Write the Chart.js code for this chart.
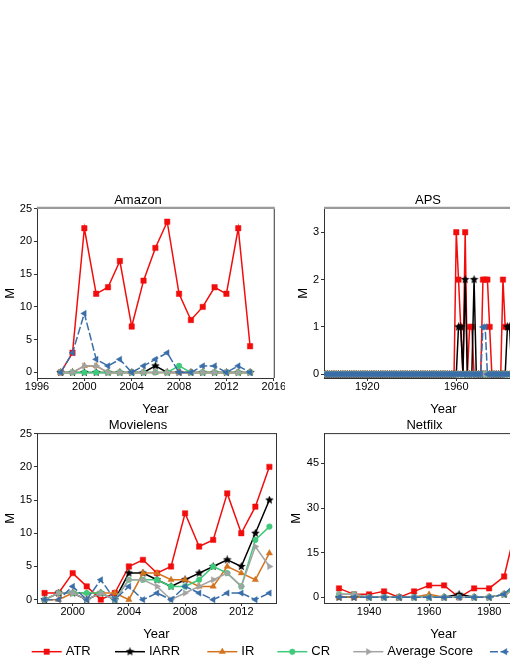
<!DOCTYPE html>
<html>
<head>
<meta charset="utf-8">
<script src="https://cdn.jsdelivr.net/npm/chart.js@4.4.1/dist/chart.umd.min.js"></script>
<style>
html, body { margin: 0; padding: 0; background: #fff; overflow: hidden; }
#fig { position: relative; width: 510px; height: 660px; overflow: hidden; background: #fff; }
#fig canvas { position: absolute; }
</style>
</head>
<body>
<div id="fig">
  <canvas id="amazon" width="285" height="231" style="left:0px;top:189px"></canvas>
  <canvas id="aps" width="279" height="231" style="left:293px;top:189px"></canvas>
  <canvas id="movielens" width="285" height="231" style="left:0px;top:414px"></canvas>
  <canvas id="netflix" width="286" height="231" style="left:286px;top:414px"></canvas>
  <canvas id="legend" width="600" height="24" style="left:0px;top:636px"></canvas>
</div>
<script>
// series names (last one is cut off in the figure)
const seriesNames = ['ATR', 'IARR', 'IR', 'CR', 'Average Score', 'Random'];

// ---- Amazon ----
const amazonYears = [1998, 1999, 2000, 2001, 2002, 2003, 2004, 2005, 2006, 2007, 2008, 2009, 2010, 2011, 2012, 2013, 2014];
const amazonATR   = [0, 3, 22, 12, 13, 17, 7, 14, 19, 23, 12, 8, 10, 13, 12, 22, 4];
const amazonIARR  = [0, 0, 0, 0, 0, 0, 0, 0, 1, 0, 0, 0, 0, 0, 0, 0, 0];
const amazonIR    = [0, 0, 1, 1, 0, 0, 0, 0, 0, 0, 0, 0, 0, 0, 0, 0, 0];
const amazonCR    = [0, 0, 0, 0, 0, 0, 0, 0, 0, 0, 1, 0, 0, 0, 0, 0, 0];
const amazonAvg   = [0, 0, 1, 1, 0, 0, 0, 0, 0, 0, 0, 0, 0, 0, 0, 0, 0];
const amazonRand  = [0, 3, 9, 2, 1, 2, 0, 1, 2, 3, 0, 0, 1, 1, 0, 1, 0];
const amazonXTicks = [1996, 2000, 2004, 2008, 2012, 2016];
const amazonYTicks = [0, 5, 10, 15, 20, 25];

// ---- APS ----
const apsYears = [
  1901, 1902, 1903, 1904, 1905, 1906, 1907, 1908, 1909, 1910,
  1911, 1912, 1913, 1914, 1915, 1916, 1917, 1918, 1919, 1920,
  1921, 1922, 1923, 1924, 1925, 1926, 1927, 1928, 1929, 1930,
  1931, 1932, 1933, 1934, 1935, 1936, 1937, 1938, 1939, 1940,
  1941, 1942, 1943, 1944, 1945, 1946, 1947, 1948, 1949, 1950,
  1951, 1952, 1953, 1954, 1955, 1956, 1957, 1958, 1959, 1960,
  1961, 1962, 1963, 1964, 1965, 1966, 1967, 1968, 1969, 1970,
  1971, 1972, 1973, 1974, 1975, 1976, 1977, 1978, 1979, 1980,
  1981, 1982, 1983, 1984, 1985, 1986, 1987, 1988, 1989, 1990
];
const apsATR = [
  0, 0, 0, 0, 0, 0, 0, 0, 0, 0,
  0, 0, 0, 0, 0, 0, 0, 0, 0, 0,
  0, 0, 0, 0, 0, 0, 0, 0, 0, 0,
  0, 0, 0, 0, 0, 0, 0, 0, 0, 0,
  0, 0, 0, 0, 0, 0, 0, 0, 0, 0,
  0, 0, 0, 0, 0, 0, 0, 0, 0, 3,
  2, 1, 0, 3, 0, 1, 1, 0, 0, 0,
  0, 2, 2, 2, 1, 0, 0, 0, 0, 0,
  2, 1, 1, 1, 1, 0, 1, 2, 1, 0
];
const apsIARR = [
  0, 0, 0, 0, 0, 0, 0, 0, 0, 0,
  0, 0, 0, 0, 0, 0, 0, 0, 0, 0,
  0, 0, 0, 0, 0, 0, 0, 0, 0, 0,
  0, 0, 0, 0, 0, 0, 0, 0, 0, 0,
  0, 0, 0, 0, 0, 0, 0, 0, 0, 0,
  0, 0, 0, 0, 0, 0, 0, 0, 0, 0,
  1, 1, 0, 2, 0, 0, 0, 2, 0, 0,
  0, 0, 0, 0, 0, 0, 0, 0, 0, 0,
  0, 0, 1, 1, 0, 0, 0, 1, 0, 0
];
const apsIR = [
  0, 0, 0, 0, 0, 0, 0, 0, 0, 0,
  0, 0, 0, 0, 0, 0, 0, 0, 0, 0,
  0, 0, 0, 0, 0, 0, 0, 0, 0, 0,
  0, 0, 0, 0, 0, 0, 0, 0, 0, 0,
  0, 0, 0, 0, 0, 0, 0, 0, 0, 0,
  0, 0, 0, 0, 0, 0, 0, 0, 0, 0,
  0, 0, 0, 0, 0, 0, 0, 0, 0, 0,
  0, 0, 0, 0, 0, 0, 0, 0, 0, 0,
  0, 0, 0, 0, 0, 0, 0, 0, 0, 0
];
const apsCR = [
  0, 0, 0, 0, 0, 0, 0, 0, 0, 0,
  0, 0, 0, 0, 0, 0, 0, 0, 0, 0,
  0, 0, 0, 0, 0, 0, 0, 0, 0, 0,
  0, 0, 0, 0, 0, 0, 0, 0, 0, 0,
  0, 0, 0, 0, 0, 0, 0, 0, 0, 0,
  0, 0, 0, 0, 0, 0, 0, 0, 0, 0,
  0, 0, 0, 0, 0, 0, 0, 0, 0, 0,
  0, 0, 0, 0, 0, 0, 0, 0, 0, 0,
  0, 0, 0, 0, 0, 0, 0, 0, 0, 0
];
const apsAvg = [
  0, 0, 0, 0, 0, 0, 0, 0, 0, 0,
  0, 0, 0, 0, 0, 0, 0, 0, 0, 0,
  0, 0, 0, 0, 0, 0, 0, 0, 0, 0,
  0, 0, 0, 0, 0, 0, 0, 0, 0, 0,
  0, 0, 0, 0, 0, 0, 0, 0, 0, 0,
  0, 0, 0, 0, 0, 0, 0, 0, 0, 0,
  0, 0, 0, 0, 0, 0, 0, 0, 0, 0,
  0, 0, 0, 0, 0, 0, 0, 0, 0, 0,
  0, 0, 0, 0, 0, 0, 0, 0, 0, 0
];
const apsRand = [
  0, 0, 0, 0, 0, 0, 0, 0, 0, 0,
  0, 0, 0, 0, 0, 0, 0, 0, 0, 0,
  0, 0, 0, 0, 0, 0, 0, 0, 0, 0,
  0, 0, 0, 0, 0, 0, 0, 0, 0, 0,
  0, 0, 0, 0, 0, 0, 0, 0, 0, 0,
  0, 0, 0, 0, 0, 0, 0, 0, 0, 0,
  0, 0, 0, 0, 0, 0, 0, 0, 0, 0,
  0, 1, 1, 0, 0, 0, 0, 0, 0, 0,
  0, 0, 0, 0, 0, 0, 0, 0, 0, 0
];
const apsXTicks = [1920, 1960, 2000];
const apsYTicks = [0, 1, 2, 3];

// ---- Movielens ----
const mlYears = [1998, 1999, 2000, 2001, 2002, 2003, 2004, 2005, 2006, 2007, 2008, 2009, 2010, 2011, 2012, 2013, 2014];
const mlATR   = [1, 1, 4, 2, 0, 1, 5, 6, 4, 5, 13, 8, 9, 16, 10, 14, 20];
const mlIARR  = [0, 1, 1, 0, 1, 0, 4, 4, 3, 2, 3, 4, 5, 6, 5, 10, 15];
const mlIR    = [0, 0, 1, 1, 1, 1, 0, 4, 4, 3, 3, 2, 2, 5, 4, 3, 7];
const mlCR    = [0, 1, 1, 1, 1, 0, 3, 3, 3, 2, 2, 3, 5, 4, 2, 9, 11];
const mlAvg   = [0, 1, 1, 0, 1, 0, 3, 3, 2, 0, 1, 2, 3, 4, 2, 8, 5];
const mlRand  = [0, 0, 2, 0, 3, 0, 2, 0, 1, 0, 2, 1, 0, 1, 1, 0, 1];
const mlXTicks = [2000, 2004, 2008, 2012];
const mlYTicks = [0, 5, 10, 15, 20, 25];

// ---- Netflix ----
const nfYears = [1930, 1935, 1940, 1945, 1950, 1955, 1960, 1965, 1970, 1975, 1980, 1985, 1990, 1995, 2000];
const nfATR   = [3, 1, 1, 2, 0, 2, 4, 4, 0, 3, 3, 7, 28, 40, 50];
const nfIARR  = [0, 0, 0, 0, 0, 0, 0, 0, 1, 0, 0, 1, 4, 12, 22];
const nfIR    = [0, 0, 0, 0, 0, 0, 1, 0, 0, 0, 0, 1, 3, 8, 14];
const nfCR    = [1, 1, 0, 0, 0, 0, 0, 0, 0, 0, 0, 1, 4, 10, 16];
const nfAvg   = [1, 1, 0, 0, 0, 0, 0, 0, 0, 0, 0, 1, 3, 8, 12];
const nfRand  = [0, 0, 0, 0, 0, 0, 0, 0, 0, 0, 0, 1, 6, 9, 11];
const nfXTicks = [1940, 1960, 1980, 2000];
const nfYTicks = [0, 15, 30, 45];

const FONT = '"Liberation Sans", Arial, sans-serif';

function makeStar(size, color) {
  const c = document.createElement('canvas');
  c.width = size; c.height = size;
  const g = c.getContext('2d');
  const cx = size / 2, cy = size / 2, R = size / 2, r = R * 0.45;
  g.beginPath();
  for (let i = 0; i < 10; i++) {
    const ang = -Math.PI / 2 + i * Math.PI / 5;
    const rr = i % 2 ? r : R;
    g.lineTo(cx + rr * Math.cos(ang), cy + rr * Math.sin(ang));
  }
  g.closePath();
  g.fillStyle = color;
  g.fill();
  return c;
}

const starImg = makeStar(9, '#000');

const styles = [
  { color: '#f20d0d', pointStyle: 'rect', radius: 3.8, rotation: 0 },
  { color: '#000000', pointStyle: starImg, radius: 4, rotation: 0 },
  { color: '#d4731e', pointStyle: 'triangle', radius: 3.6, rotation: 0 },
  { color: '#3fc97a', pointStyle: 'circle', radius: 2.8, rotation: 0 },
  { color: '#a3a3a3', pointStyle: 'triangle', radius: 3.6, rotation: 90 },
  { color: '#3a6ea8', pointStyle: 'triangle', radius: 3.6, rotation: -90, dash: [8, 2.5] }
];

function makeDatasets(years, seriesList) {
  return seriesList.map((vals, i) => {
    const s = styles[i];
    return {
      label: seriesNames[i],
      data: years.map((yr, j) => ({ x: yr, y: vals[j] })),
      borderColor: s.color,
      backgroundColor: s.color,
      pointBackgroundColor: s.color,
      pointBorderColor: s.color,
      pointBorderWidth: 0.5,
      pointStyle: s.pointStyle,
      pointRadius: s.radius,
      pointRotation: s.rotation,
      borderWidth: 1.5,
      borderDash: s.dash || [],
      tension: 0,
      order: seriesList.length - 1 - i
    };
  });
}

const framePlugin = {
  id: 'frame',
  afterDatasetsDraw(chart, args, opts) {
    const { ctx, chartArea: a } = chart;
    ctx.save();
    ctx.strokeStyle = '#333';
    ctx.lineWidth = 1;
    ctx.beginPath();
    ctx.moveTo(a.right + 0.5, a.top);
    ctx.lineTo(a.right + 0.5, a.bottom);
    ctx.stroke();
    ctx.strokeStyle = opts.topColor;
    ctx.lineWidth = opts.topWidth;
    ctx.beginPath();
    ctx.moveTo(a.left, a.top - opts.topWidth / 2 + 0.5);
    ctx.lineTo(a.right + 1, a.top - opts.topWidth / 2 + 0.5);
    ctx.stroke();
    ctx.restore();
  }
};

function makePanel(id, title, years, seriesList, xr, xTicks, yr, yTicks, yWidth, topStyle) {
  return new Chart(document.getElementById(id), {
    type: 'line',
    data: { datasets: makeDatasets(years, seriesList) },
    plugins: [framePlugin],
    options: {
      responsive: false,
      animation: false,
      devicePixelRatio: 1,
      layout: { padding: { left: 0, right: 9, top: 0, bottom: 0 } },
      plugins: {
        legend: { display: false },
        tooltip: { enabled: false },
        title: {
          display: true, text: title, color: '#000',
          font: { family: FONT, size: 13, weight: 'normal' },
          padding: { top: 4, bottom: 0 }
        },
        frame: topStyle
      },
      scales: {
        x: {
          type: 'linear', min: xr[0], max: xr[1],
          afterBuildTicks: s => { s.ticks = xTicks.map(v => ({ value: v })); },
          afterFit: s => { s.height = 42; },
          ticks: {
            color: '#000', font: { family: FONT, size: 11 }, padding: -1,
            autoSkip: false, maxRotation: 0, callback: v => String(v)
          },
          grid: { drawOnChartArea: false, tickLength: 3, color: '#333' },
          border: { color: '#333', width: 1 },
          title: {
            display: true, text: 'Year', color: '#000',
            font: { family: FONT, size: 13 }, padding: { top: 0, bottom: 3 }
          }
        },
        y: {
          type: 'linear', min: yr[0], max: yr[1],
          afterBuildTicks: s => { s.ticks = yTicks.map(v => ({ value: v })); },
          afterFit: s => { s.width = yWidth; },
          ticks: {
            color: '#000', font: { family: FONT, size: 11 }, padding: 2,
            autoSkip: false, callback: v => String(v)
          },
          grid: { drawOnChartArea: false, tickLength: 3, color: '#333' },
          border: { color: '#333', width: 1 },
          title: {
            display: true, text: 'M', color: '#000',
            font: { family: FONT, size: 13 }, padding: { top: 2.7, bottom: 0 }
          }
        }
      }
    }
  });
}

const topGrey = { topColor: '#9a9a9a', topWidth: 2.3 };
const topDark = { topColor: '#333', topWidth: 1 };

makePanel('amazon', 'Amazon', amazonYears,
  [amazonATR, amazonIARR, amazonIR, amazonCR, amazonAvg, amazonRand],
  [1996, 2016], amazonXTicks, [-0.85, 25], amazonYTicks, 37, topGrey);

makePanel('aps', 'APS', apsYears,
  [apsATR, apsIARR, apsIR, apsCR, apsAvg, apsRand],
  [1900.5, 2008], apsXTicks, [-0.08, 3.5], apsYTicks, 31, topGrey);

makePanel('movielens', 'Movielens', mlYears,
  [mlATR, mlIARR, mlIR, mlCR, mlAvg, mlRand],
  [1997.46, 2014.47], mlXTicks, [-0.5, 25], mlYTicks, 37, topDark);

makePanel('netflix', 'Netfilx', nfYears,
  [nfATR, nfIARR, nfIR, nfCR, nfAvg, nfRand],
  [1925, 2004.6], nfXTicks, [-1.9, 55], nfYTicks, 38, topDark);

// shared legend along the bottom
const legendX = [31.7, 115, 207.3, 277.3, 353.3, 490];
const legendPlugin = {
  id: 'figLegend',
  afterDraw(chart) {
    const ctx = chart.ctx;
    const y = 15.7;
    chart.data.datasets.forEach((ds, i) => {
      const x0 = legendX[i];
      ctx.save();
      ctx.strokeStyle = ds.borderColor;
      ctx.lineWidth = 1.5;
      ctx.setLineDash(ds.borderDash || []);
      ctx.beginPath();
      ctx.moveTo(x0, y);
      ctx.lineTo(x0 + 30, y);
      ctx.stroke();
      ctx.setLineDash([]);
      ctx.fillStyle = ds.pointBackgroundColor;
      ctx.strokeStyle = ds.pointBorderColor;
      ctx.lineWidth = 0.5;
      Chart.helpers.drawPoint(ctx, {
        pointStyle: ds.pointStyle, radius: ds.pointRadius,
        rotation: ds.pointRotation, borderWidth: 0.5
      }, x0 + 15, y);
      ctx.fillStyle = '#000';
      ctx.font = '13px ' + FONT;
      ctx.textBaseline = 'middle';
      ctx.textAlign = 'left';
      ctx.fillText(ds.label, x0 + 34, y);
      ctx.restore();
    });
  }
};

new Chart(document.getElementById('legend'), {
  type: 'line',
  data: { datasets: makeDatasets([], [[], [], [], [], [], []]) },
  plugins: [legendPlugin],
  options: {
    responsive: false,
    animation: false,
    devicePixelRatio: 1,
    plugins: { legend: { display: false }, tooltip: { enabled: false } },
    scales: { x: { display: false }, y: { display: false } }
  }
});
</script>
</body>
</html>
